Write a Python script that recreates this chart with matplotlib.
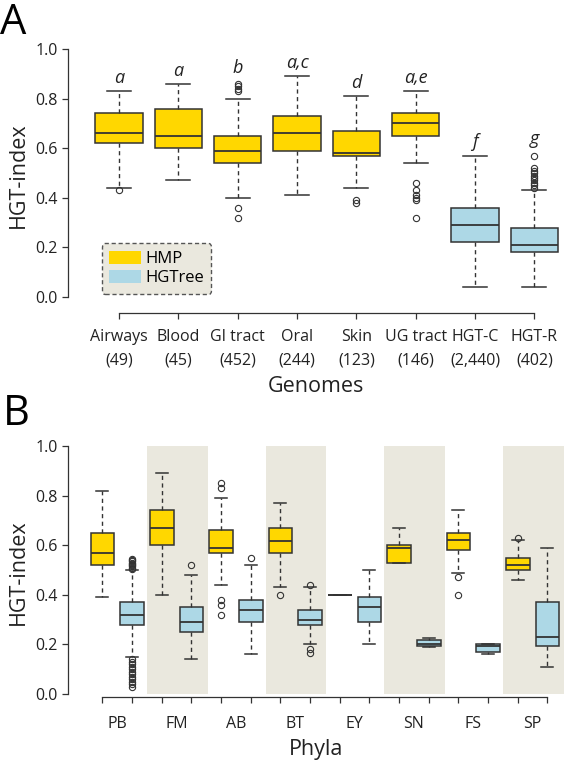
import numpy as np
import matplotlib.pyplot as plt
from matplotlib.patches import Patch

plt.rcParams['font.family'] = ['Open Sans', 'DejaVu Sans']

hmp_col = '#FFD700'
hgt_col = '#ADD8E6'
shade_col = '#EAE8DE'
dark = '#333333'

# ---- panel A: genomes ----
genomes = ['Airways\n(49)', 'Blood\n(45)', 'GI tract\n(452)', 'Oral\n(244)',
           'Skin\n(123)', 'UG tract\n(146)', 'HGT-C\n(2,440)', 'HGT-R\n(402)']
a_source = ['HMP', 'HMP', 'HMP', 'HMP', 'HMP', 'HMP', 'HGTree', 'HGTree']
a_whislo = [0.44, 0.47, 0.40, 0.41, 0.44, 0.54, 0.04, 0.04]
a_q1 = [0.62, 0.60, 0.54, 0.59, 0.57, 0.65, 0.22, 0.18]
a_med = [0.66, 0.65, 0.59, 0.66, 0.58, 0.70, 0.29, 0.21]
a_q3 = [0.74, 0.76, 0.65, 0.73, 0.67, 0.74, 0.36, 0.28]
a_whishi = [0.83, 0.86, 0.80, 0.89, 0.81, 0.83, 0.57, 0.43]
a_fliers = [[0.43], [], [0.86, 0.85, 0.84, 0.83, 0.36, 0.32], [], [0.38, 0.39],
            [0.46, 0.43, 0.41, 0.40, 0.39, 0.32], [],
            [0.57, 0.52, 0.51, 0.50, 0.49, 0.48, 0.47, 0.46, 0.45, 0.44]]
a_letters = ['a', 'a', 'b', 'a,c', 'd', 'a,e', 'f', 'g']

# ---- panel B: phyla (HMP, HGTree pairs) ----
phyla = ['PB', 'FM', 'AB', 'BT', 'EY', 'SN', 'FS', 'SP']
shaded = ['FM', 'BT', 'SN', 'SP']
b_whislo = [0.39, 0.15, 0.40, 0.14, 0.44, 0.16, 0.43, 0.20,
            0.40, 0.20, 0.53, 0.19, 0.49, 0.16, 0.46, 0.11]
b_q1 = [0.52, 0.28, 0.60, 0.25, 0.57, 0.29, 0.57, 0.28,
        0.40, 0.29, 0.53, 0.195, 0.58, 0.17, 0.50, 0.195]
b_med = [0.57, 0.32, 0.67, 0.29, 0.59, 0.34, 0.615, 0.30,
         0.40, 0.35, 0.59, 0.20, 0.62, 0.195, 0.52, 0.23]
b_q3 = [0.65, 0.37, 0.74, 0.35, 0.66, 0.38, 0.67, 0.34,
        0.40, 0.39, 0.60, 0.218, 0.65, 0.20, 0.55, 0.37]
b_whishi = [0.82, 0.50, 0.89, 0.48, 0.79, 0.52, 0.77, 0.43,
            0.40, 0.50, 0.67, 0.227, 0.74, 0.20, 0.62, 0.59]
b_fliers = [[],
            [0.545, 0.54, 0.535, 0.53, 0.525, 0.52, 0.515, 0.51, 0.505,
             0.14, 0.13, 0.12, 0.11, 0.10, 0.09, 0.08, 0.07, 0.06, 0.05, 0.04, 0.03],
            [], [0.52],
            [0.85, 0.83, 0.38, 0.36, 0.32], [0.55],
            [0.40], [0.44, 0.18, 0.165],
            [], [], [], [],
            [0.47, 0.40], [],
            [0.63], []]


def stats(lo, q1, med, q3, hi, fl):
    return [dict(whislo=a, q1=b, med=c, q3=d, whishi=e, fliers=f)
            for a, b, c, d, e, f in zip(lo, q1, med, q3, hi, fl)]


def draw_boxes(ax, st, colors):
    bp = ax.bxp(st, positions=range(1, len(st) + 1), widths=0.8, capwidths=0.4,
                patch_artist=True, showfliers=True,
                boxprops=dict(edgecolor=dark, linewidth=1.1),
                medianprops=dict(color=dark, linewidth=1.3),
                whiskerprops=dict(color=dark, linewidth=1.0, linestyle=(0, (3, 2.5))),
                capprops=dict(color=dark, linewidth=1.1),
                flierprops=dict(marker='o', markerfacecolor='none',
                                markeredgecolor=dark, markersize=4.5,
                                markeredgewidth=0.8))
    for patch, c in zip(bp['boxes'], colors):
        patch.set_facecolor(c)
    return bp


def style_axis(ax):
    for s in ['top', 'right']:
        ax.spines[s].set_visible(False)
    for s in ['left', 'bottom']:
        ax.spines[s].set_color(dark)
        ax.spines[s].set_linewidth(0.9)
    ax.spines['left'].set_bounds(0, 1)
    ax.set_ylim(-0.07, 1.05)
    ax.set_yticks([0, 0.2, 0.4, 0.6, 0.8, 1.0])
    ax.set_yticklabels(['0.0', '0.2', '0.4', '0.6', '0.8', '1.0'])
    ax.tick_params(axis='both', direction='out', length=4.5, width=0.9,
                   color=dark, labelsize=11.5, labelcolor='#222222')
    ax.tick_params(axis='y', pad=3)
    ax.set_ylabel('HGT-index', fontsize=15.5, color='#222222')
    ax.yaxis.set_label_coords(-0.078, 0.5 + 0.0)


fig = plt.figure(figsize=(5.64, 7.6), dpi=100)

# panel A
axA = fig.add_axes([68 / 564, 1 - 314.4 / 760, 496 / 564, 277.8 / 760])
colsA = [hmp_col if s == 'HMP' else hgt_col for s in a_source]
stA = stats(a_whislo, a_q1, a_med, a_q3, a_whishi, a_fliers)
draw_boxes(axA, stA, colsA)
style_axis(axA)
axA.set_xlim(0.14, 8.5)
axA.spines['bottom'].set_position(('data', -0.065))
axA.spines['bottom'].set_bounds(1, 8)
axA.set_xticks(range(1, 9))
axA.set_xticklabels(genomes, linespacing=1.65)
axA.tick_params(axis='x', pad=7)
axA.set_xlabel('Genomes', fontsize=15.5, color='#222222', labelpad=5)
for i, s in enumerate(stA):
    top = max([s['whishi']] + list(s['fliers']))
    off = 0.033 if top == s['whishi'] else 0.045
    axA.text(i + 1, top + off, a_letters[i], ha='center', va='baseline',
             fontsize=13, style='italic', color='#222222')
handles = [Patch(facecolor=hmp_col, edgecolor='none', label='HMP'),
           Patch(facecolor=hgt_col, edgecolor='none', label='HGTree')]
leg = axA.legend(handles=handles, loc='lower left',
                 bbox_to_anchor=(0.068, 0.075), borderaxespad=0,
                 fontsize=12, handlelength=1.9, handleheight=0.85,
                 handletextpad=0.25, labelspacing=0.15, borderpad=0.45,
                 fancybox=True, framealpha=1)
fr = leg.get_frame()
fr.set_facecolor(shade_col)
fr.set_edgecolor('#555555')
fr.set_linestyle((0, (3, 2)))
fr.set_linewidth(1.0)
fig.text(0.0, 0.998, 'A', fontsize=30, va='top', ha='left')

# panel B
axB = fig.add_axes([68 / 564, 1 - 711.4 / 760, 496 / 564, 277.8 / 760])
for k, p in enumerate(phyla):
    if p in shaded:
        axB.fill_between([2 * k + 0.5, 2 * k + 2.55], 0, 1, color=shade_col,
                         linewidth=0, zorder=0)
colsB = [hmp_col, hgt_col] * len(phyla)
stB = stats(b_whislo, b_q1, b_med, b_q3, b_whishi, b_fliers)
draw_boxes(axB, stB, colsB)
style_axis(axB)
axB.set_xlim(-0.16, 16.56)
axB.spines['bottom'].set_position(('data', -0.012))
axB.spines['bottom'].set_bounds(1, 16)
axB.set_xticks(range(1, 17))
axB.set_xticklabels([''] * 16)
axB.set_xticks(np.arange(1.5, 16, 2), minor=True)
axB.set_xticklabels(phyla, minor=True)
axB.tick_params(axis='x', which='minor', length=0, pad=14, labelsize=11.5,
                labelcolor='#222222')
axB.set_xlabel('Phyla', fontsize=15.5, color='#222222', labelpad=5)
fig.text(0.005, 1 - 393 / 760, 'B', fontsize=30, va='top', ha='left')

fig.savefig('out.png', dpi=100)
